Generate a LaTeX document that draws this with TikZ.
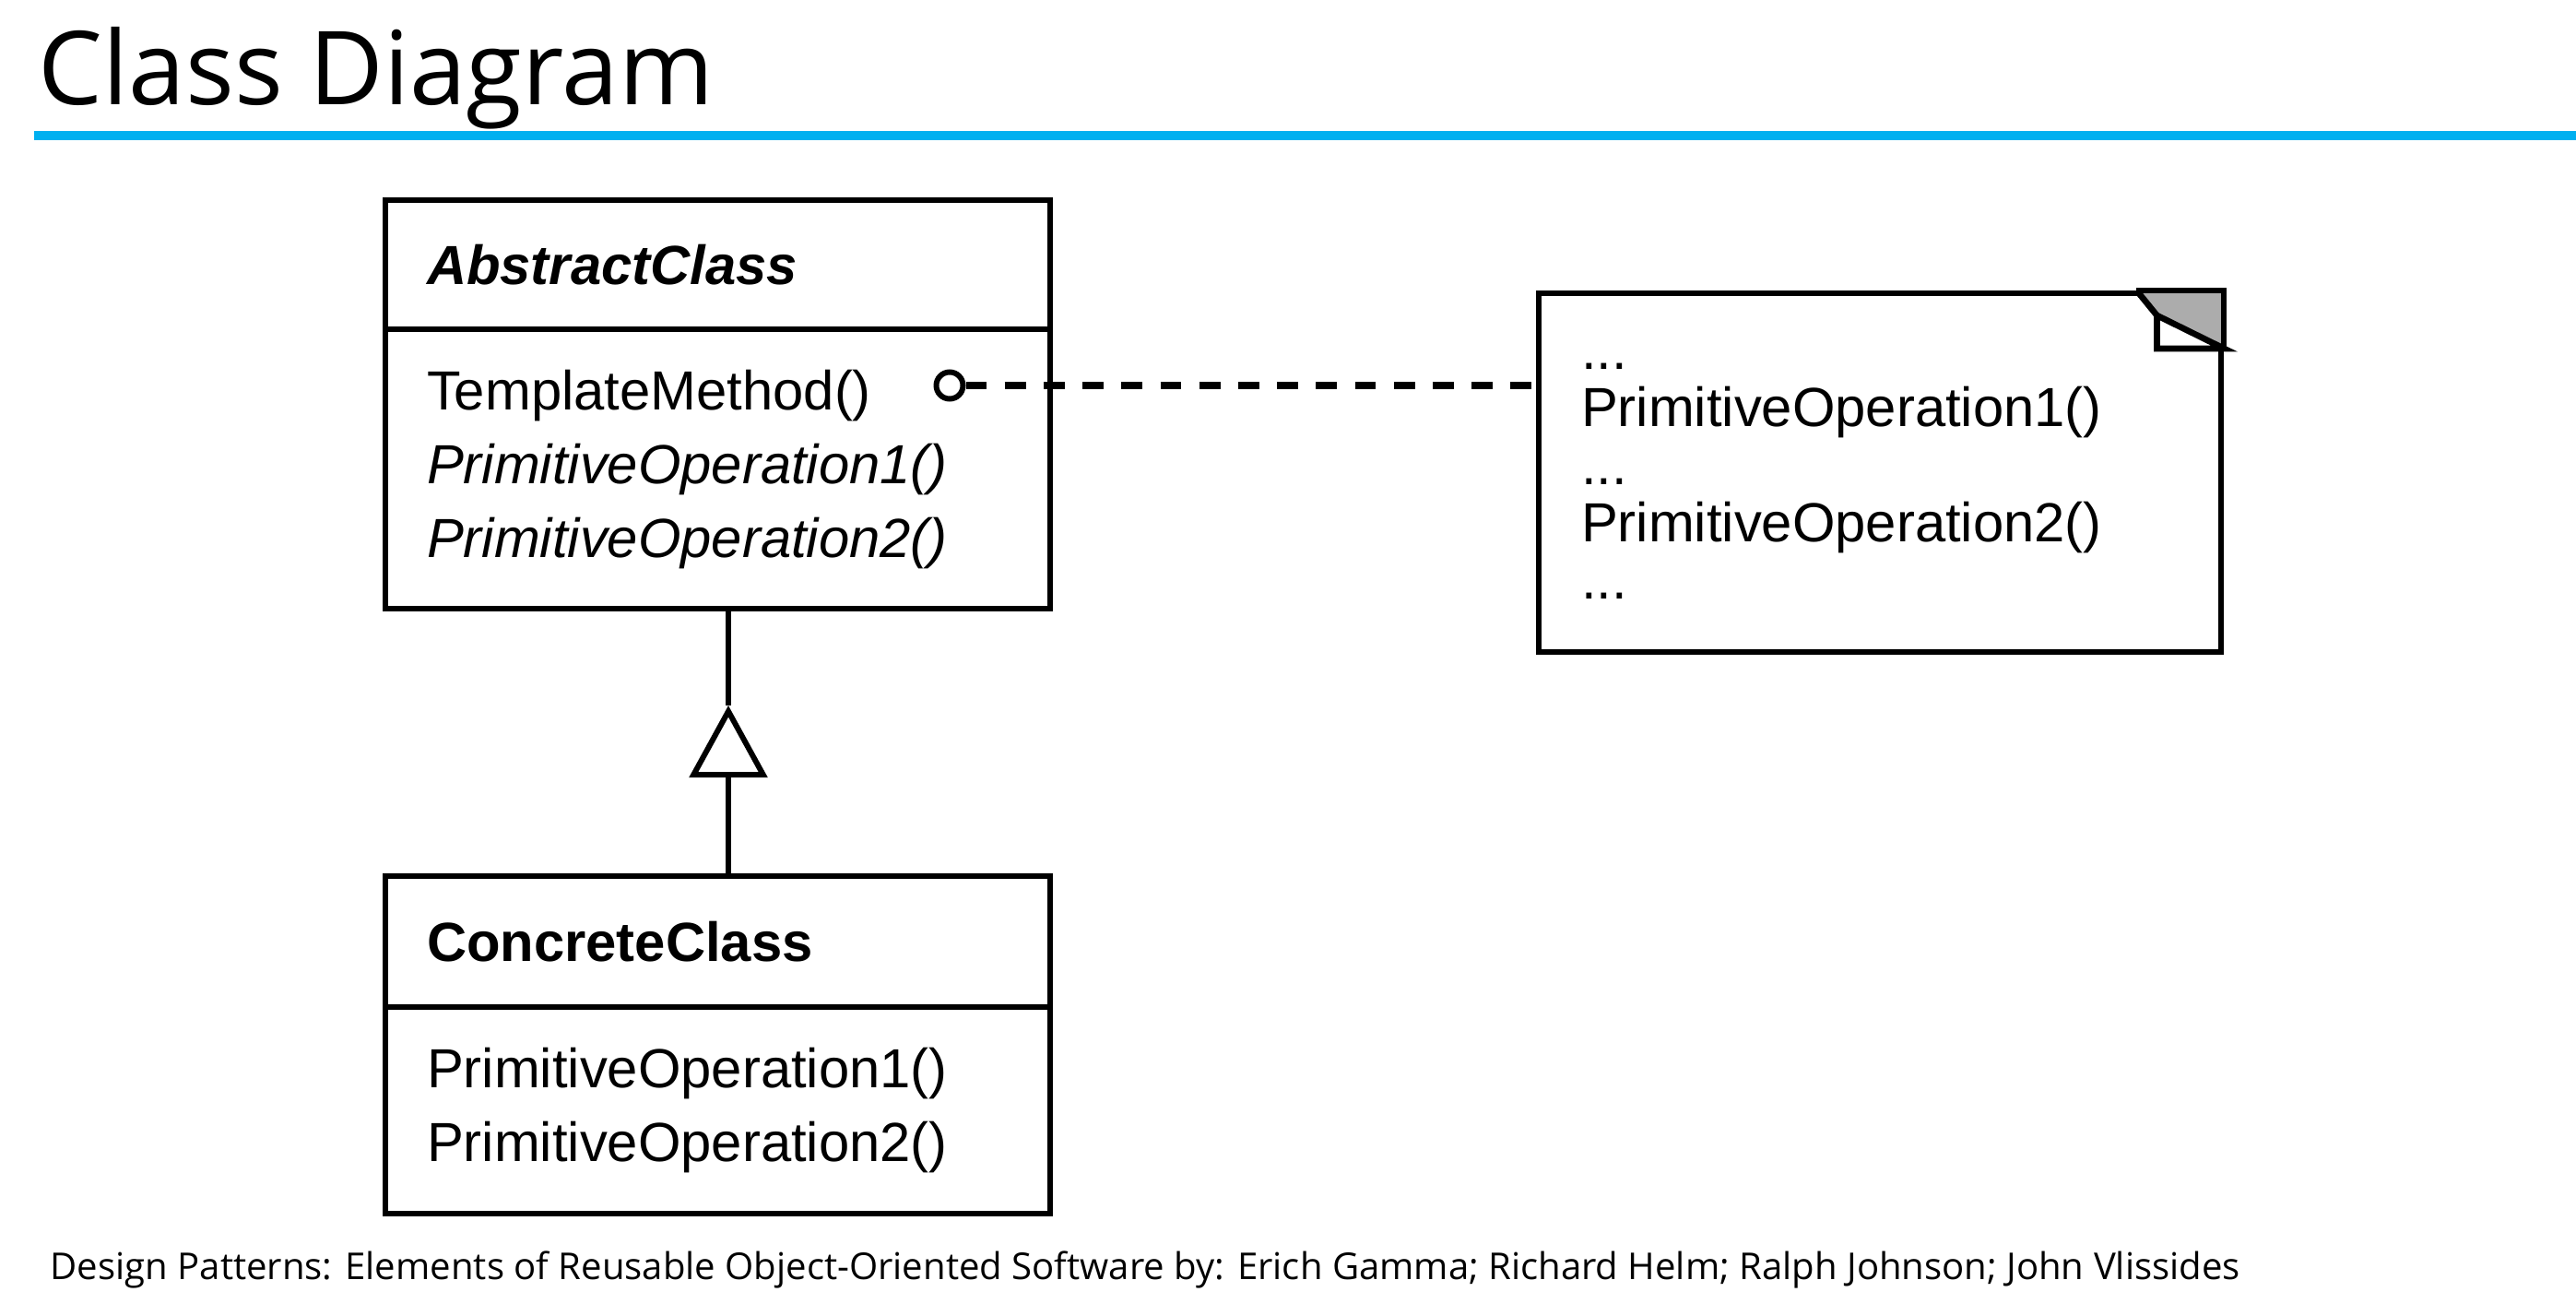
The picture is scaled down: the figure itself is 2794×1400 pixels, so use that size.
\documentclass[tikz,border=0pt]{standalone}
\usepackage{fontspec}
\setmainfont{Open Sans}
\newfontfamily\umlfont{Liberation Sans}
\usepackage{tikz}
\usetikzlibrary{positioning,arrows.meta}
\definecolor{slideblue}{HTML}{00B0F0}

\begin{document}
\begin{tikzpicture}[x=0.01cm, y=-0.01cm, node distance=0pt,
    umlbox/.style={draw, line width=1.7pt, outer sep=0pt, minimum width=7.21cm,
      inner xsep=0.45cm, text width=6.31cm, align=left,
      font=\umlfont\fontsize{17}{22.76}\selectfont},
    umlline/.style={line width=1.7pt}]
  \useasboundingbox (0,0) rectangle (2794,1400);
  \node (title) [anchor=base west, inner sep=0pt,
                 font=\fontsize{31.5}{38}\selectfont] at (41,114)
    {Class Diagram};
  \draw[slideblue, line width=0.1cm] (37,147) -- (2794,147);

  \node (abshead) [umlbox, minimum height=1.40cm, anchor=north west]
    at (418,217) {\textbf{\textit{AbstractClass}}};
  \node (absbody) [umlbox, minimum height=3.03cm, below=of abshead]
    {TemplateMethod()\\ \textit{PrimitiveOperation1()}\\
     \textit{PrimitiveOperation2()}};
  \node (cchead) [umlbox, minimum height=1.42cm, anchor=north west]
    at (418,950) {\textbf{ConcreteClass}};
  \node (ccbody) [umlbox, minimum height=2.24cm, below=of cchead]
    {PrimitiveOperation1()\\ PrimitiveOperation2()};

  \coordinate (triapex) at (790,765);
  \draw[umlline] (triapex) -- (triapex |- absbody.south);
  \draw[umlline, -{Triangle[open, length=0.78cm, width=0.84cm]}]
    (triapex |- cchead.north) -- (triapex);

  \node (note) [draw, line width=1.7pt, anchor=north west,
                minimum width=7.40cm, minimum height=3.89cm,
                inner xsep=0.46cm, text width=6.48cm, align=left,
                font=\umlfont\fontsize{17}{17.64}\selectfont] at (1666,315)
    {\strut...\\ PrimitiveOperation1()\\ ...\\ PrimitiveOperation2()\\ ...\strut};
  \fill[gray!65] ([shift={(-95,0)}]note.north east) -- (note.north east)
    -- ([shift={(0,63)}]note.north east) -- ([shift={(-73,27)}]note.north east)
    -- cycle;
  \draw[umlline] ([shift={(-95,0)}]note.north east) -- (note.north east)
    -- ([shift={(0,63)}]note.north east);
  \draw[line width=1.9pt, fill=white] ([shift={(-73,27)}]note.north east)
    -- ([shift={(-73,63)}]note.north east) -- ([shift={(0,63)}]note.north east)
    -- cycle;
  \draw[line width=1.9pt] ([shift={(-95,0)}]note.north east)
    -- ([shift={(-73,27)}]note.north east);

  \node (tmdot) [draw, circle, line width=1.7pt, minimum size=0.29cm,
                 inner sep=0pt] at (1030,418) {};
  \draw[line width=2pt, dash pattern=on 6.5pt off 5.5pt]
    (tmdot.east) -- (tmdot -| note.west);

  \node (source) [anchor=base west, inner sep=0pt,
                  font=\fontsize{11.4}{14}\selectfont] at (54,1387)
    {Design Patterns: Elements of Reusable Object-Oriented Software by: Erich Gamma; Richard Helm; Ralph Johnson; John Vlissides};
\end{tikzpicture}
\end{document}
